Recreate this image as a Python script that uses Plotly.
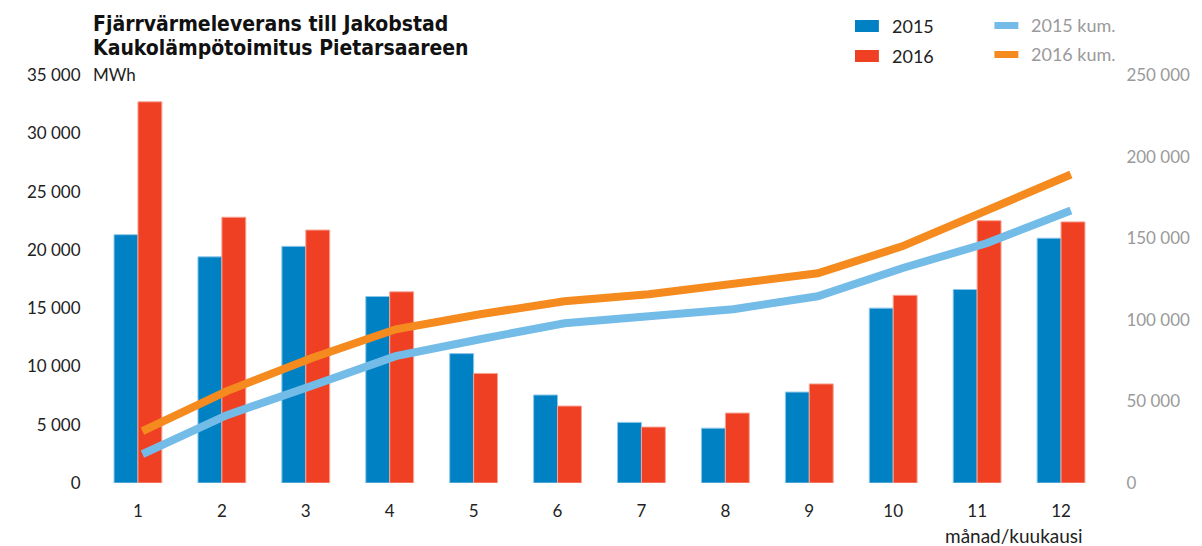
import plotly.graph_objects as go

# data
months = list(range(1, 13))
month_labels = [str(m) for m in months]

mwh_2015 = [21300, 19400, 20300, 16000, 11100, 7550, 5200, 4700, 7800, 15000, 16600, 21000]
mwh_2016 = [32700, 22800, 21700, 16400, 9400, 6600, 4800, 6000, 8500, 16100, 22500, 22400]

kum_2015 = [17700, 41600, 59400, 77700, 88100, 97900, 102200, 106500, 114400, 131600, 146900, 167000]
kum_2016 = [31800, 56300, 76500, 94200, 103400, 111400, 115700, 122400, 128500, 145000, 167000, 189000]

left_ticks = [0, 5000, 10000, 15000, 20000, 25000, 30000, 35000]
right_ticks = [0, 50000, 100000, 150000, 200000, 250000]

BLUE = "#0081c4"
RED = "#ef4024"
LIGHT_BLUE = "#74bce8"
ORANGE = "#f58a1f"
DARK = "#222222"
GREY = "#9a9a9a"

# the page puts the plot 8px in from the top-left corner, so work in window pixels
# and shift everything by that offset
OFF = 8
W, H = 1202 - OFF, 546 - OFF
L, R, T, B = 96 - OFF, 1107 - OFF, 75 - OFF, 483 - OFF


def px(x):
    return (x - OFF - L) / (R - L)


def py(y):
    return (B - (y - OFF)) / (B - T)


fig = go.Figure()

fig.add_trace(go.Bar(x=months, y=mwh_2015, name="2015",
                     marker=dict(color=BLUE, line=dict(color="#8cc6ea", width=1))))
fig.add_trace(go.Bar(x=months, y=mwh_2016, name="2016",
                     marker=dict(color=RED, line=dict(color="#f6a493", width=1))))

fig.add_trace(go.Scatter(x=months, y=kum_2015, name="2015 kum.", mode="lines",
                         line=dict(color=LIGHT_BLUE, width=8), xaxis="x2", yaxis="y2"))
fig.add_trace(go.Scatter(x=months, y=kum_2016, name="2016 kum.", mode="lines",
                         line=dict(color=ORANGE, width=8), xaxis="x2", yaxis="y2"))

tick_font = dict(family="Lato, 'Open Sans', sans-serif", size=17, color=DARK)

fig.update_layout(
    width=W, height=H, autosize=False,
    margin=dict(l=L, r=W - R, t=T, b=H - B),
    paper_bgcolor="white", plot_bgcolor="white",
    showlegend=False,
    separators=", ",
    barmode="group", bargap=0.43, bargroupgap=0.0,
    xaxis=dict(range=[0.5, 12.5], tickvals=months, ticktext=month_labels,
               showgrid=False, zeroline=False, showline=False,
               ticks="outside", ticklen=13, tickcolor="rgba(0,0,0,0)",
               tickfont=tick_font),
    xaxis2=dict(range=[0.45, 12.38], overlaying="x", visible=False, anchor="y2"),
    yaxis=dict(range=[0, 35000], tickvals=left_ticks, tickformat=",d",
               showgrid=False, zeroline=False, showline=False,
               ticks="outside", ticklen=11, tickcolor="rgba(0,0,0,0)",
               tickfont=tick_font),
    yaxis2=dict(range=[0, 250000], tickvals=right_ticks, tickformat=",d",
                overlaying="y", side="right", anchor="x2",
                showgrid=False, zeroline=False, showline=False,
                ticks="outside", ticklen=19, tickcolor="rgba(0,0,0,0)",
                tickfont=dict(family="Lato, 'Open Sans', sans-serif", size=17, color=GREY)),
)

title_font = dict(family="'DejaVu Sans Condensed', 'DejaVu Sans', sans-serif", size=21, color="#111111")
fig.add_annotation(text="<b>Fjärrvärmeleverans till Jakobstad</b>", xref="paper", yref="paper",
                   x=px(91), y=py(24), xanchor="left", yanchor="middle", showarrow=False,
                   font=title_font)
fig.add_annotation(text="<b>Kaukolämpötoimitus Pietarsaareen</b>", xref="paper", yref="paper",
                   x=px(91), y=py(48), xanchor="left", yanchor="middle", showarrow=False,
                   font=title_font)
fig.add_annotation(text="MWh", xref="paper", yref="paper", x=px(91), y=py(74),
                   xanchor="left", yanchor="middle", showarrow=False, font=tick_font)
fig.add_annotation(text="månad/kuukausi", xref="paper", yref="paper", x=px(1089), y=py(535),
                   xanchor="right", yanchor="middle", showarrow=False,
                   font=dict(family="Lato, 'Open Sans', sans-serif", size=19, color=DARK))

# legend drawn by hand in two columns
legend_items = [
    ("2015", BLUE, 858, 20, 32, DARK),
    ("2016", RED, 858, 50, 62, DARK),
    ("2015 kum.", LIGHT_BLUE, 998, 22, 29, GREY),
    ("2016 kum.", ORANGE, 998, 51, 58, GREY),
]
for label, color, x0, y0, y1, tcolor in legend_items:
    fig.add_shape(type="rect", xref="paper", yref="paper",
                  x0=px(x0), x1=px(x0 + 24), y0=py(y1), y1=py(y0),
                  fillcolor=color, line=dict(width=0))
    fig.add_annotation(text=label, xref="paper", yref="paper",
                       x=px(x0 + 35), y=py((y0 + y1) / 2), xanchor="left", yanchor="middle",
                       showarrow=False, font=dict(family="Lato, 'Open Sans', sans-serif", size=18, color=tcolor))

fig.write_html("out.html")
